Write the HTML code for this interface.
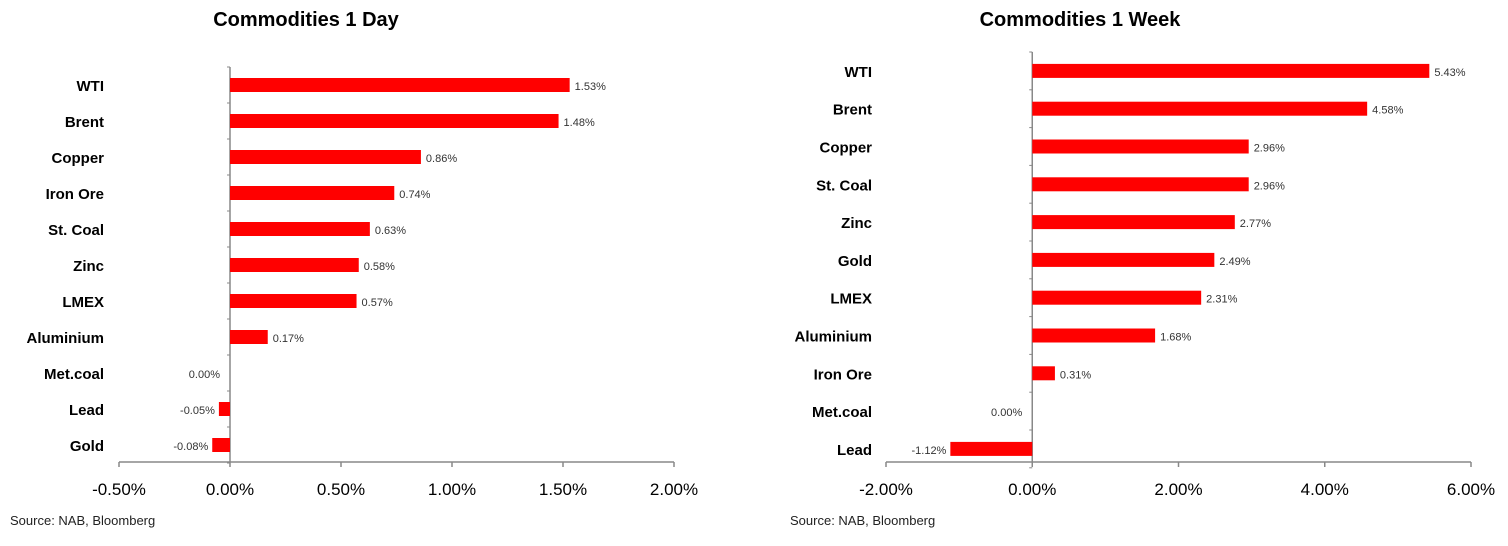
<!DOCTYPE html>
<html><head><meta charset="utf-8"><style>
body{margin:0;background:#fff;width:1508px;height:546px;overflow:hidden;font-family:"Liberation Sans",sans-serif}
svg{display:block}
</style></head><body>
<svg id="c" width="1508" height="546" xmlns="http://www.w3.org/2000/svg"></svg>
<script>
const dayCats=["WTI","Brent","Copper","Iron Ore","St. Coal","Zinc","LMEX","Aluminium","Met.coal","Lead","Gold"];
const dayVals=[1.53,1.48,0.86,0.74,0.63,0.58,0.57,0.17,0.00,-0.05,-0.08];
const dayTicks=[-0.5,0,0.5,1.0,1.5,2.0];
const weekCats=["WTI","Brent","Copper","St. Coal","Zinc","Gold","LMEX","Aluminium","Iron Ore","Met.coal","Lead"];
const weekVals=[5.43,4.58,2.96,2.96,2.77,2.49,2.31,1.68,0.31,0.00,-1.12];
const weekTicks=[-2,0,2,4,6];
const NS="http://www.w3.org/2000/svg";
const svg=document.getElementById('c');
function mk(t,a,p){const e=document.createElementNS(NS,t);for(const k in a)e.setAttribute(k,a[k]);(p||svg).appendChild(e);return e;}
function chart(o){
  const g=mk('g',{});
  
  
  const x=v=>o.x0+(v-o.tMin)/(o.tMax-o.tMin)*(o.x1-o.x0);
  const y=i=>o.yTop+o.step*(i+0.5);
  const t=mk('text',{x:o.tx,y:26,'text-anchor':'middle','font-size':20,'font-weight':'bold',fill:'#000'},g);
  t.textContent=o.title;
  
  
  const ax=mk('line',{x1:o.x0,x2:o.x1,y1:o.axisY,y2:o.axisY,stroke:'#888','stroke-width':1.5},g);
  
  
  const zx=x(0);
  const va=mk('line',{x1:zx,x2:zx,y1:o.yTop,y2:o.axisY,stroke:'#888','stroke-width':1.5},g);
  
  
  for(let i=0;i<=o.cats.length;i++){mk('line',{x1:zx-3,x2:zx,y1:o.yTop+o.step*i,y2:o.yTop+o.step*i,stroke:'#888'},g);}
  o.ticks.forEach(v=>{
    mk('line',{x1:x(v),x2:x(v),y1:o.axisY,y2:o.axisY+5,stroke:'#888','stroke-width':1.5},g);
    const l=mk('text',{x:x(v),y:o.axisY+33,'text-anchor':'middle','font-size':17,fill:'#000'},g);
    l.textContent=v.toFixed(2)+'%';
    
    
  });
  o.cats.forEach((c,i)=>{
    const cy=y(i),v=o.vals[i];
    const cl=mk('text',{x:o.catX,y:cy+6,'text-anchor':'end','font-size':15,'font-weight':'bold',fill:'#000'},g);
    cl.textContent=c;
    
    
    const x1=Math.min(x(0),x(v)),w=Math.abs(x(v)-x(0));
    const b=mk('rect',{x:x1,y:cy-7,width:w,height:14,fill:'#ff0000'},g);
    
    
    const vl=mk('text',{x:v<0?x(v)-4:(v===0?x(0)-8:x(v)+5),y:cy+5,'text-anchor':(v<=0?'end':'start'),'font-size':11,fill:'#333'},g);
    if(v===0){vl.setAttribute('x',x(0)-10);}
    vl.textContent=v.toFixed(2)+'%';
    
    
  });
  const s=mk('text',{x:o.srcX,y:525,'font-size':13,fill:'#222'},g);
  s.textContent='Source: NAB, Bloomberg';
  
  
}
chart({name:'day-chart',title:'Commodities 1 Day',tx:306,cats:dayCats,vals:dayVals,ticks:dayTicks,tMin:-0.5,tMax:2.0,x0:119,x1:674,yTop:67,step:36,axisY:462,catX:104,srcX:10});
chart({name:'week-chart',title:'Commodities 1 Week',tx:1080,cats:weekCats,vals:weekVals,ticks:weekTicks,tMin:-2,tMax:6,x0:886,x1:1471,yTop:52,step:37.8,axisY:462,catX:872,srcX:790});
</script>
</body></html>
